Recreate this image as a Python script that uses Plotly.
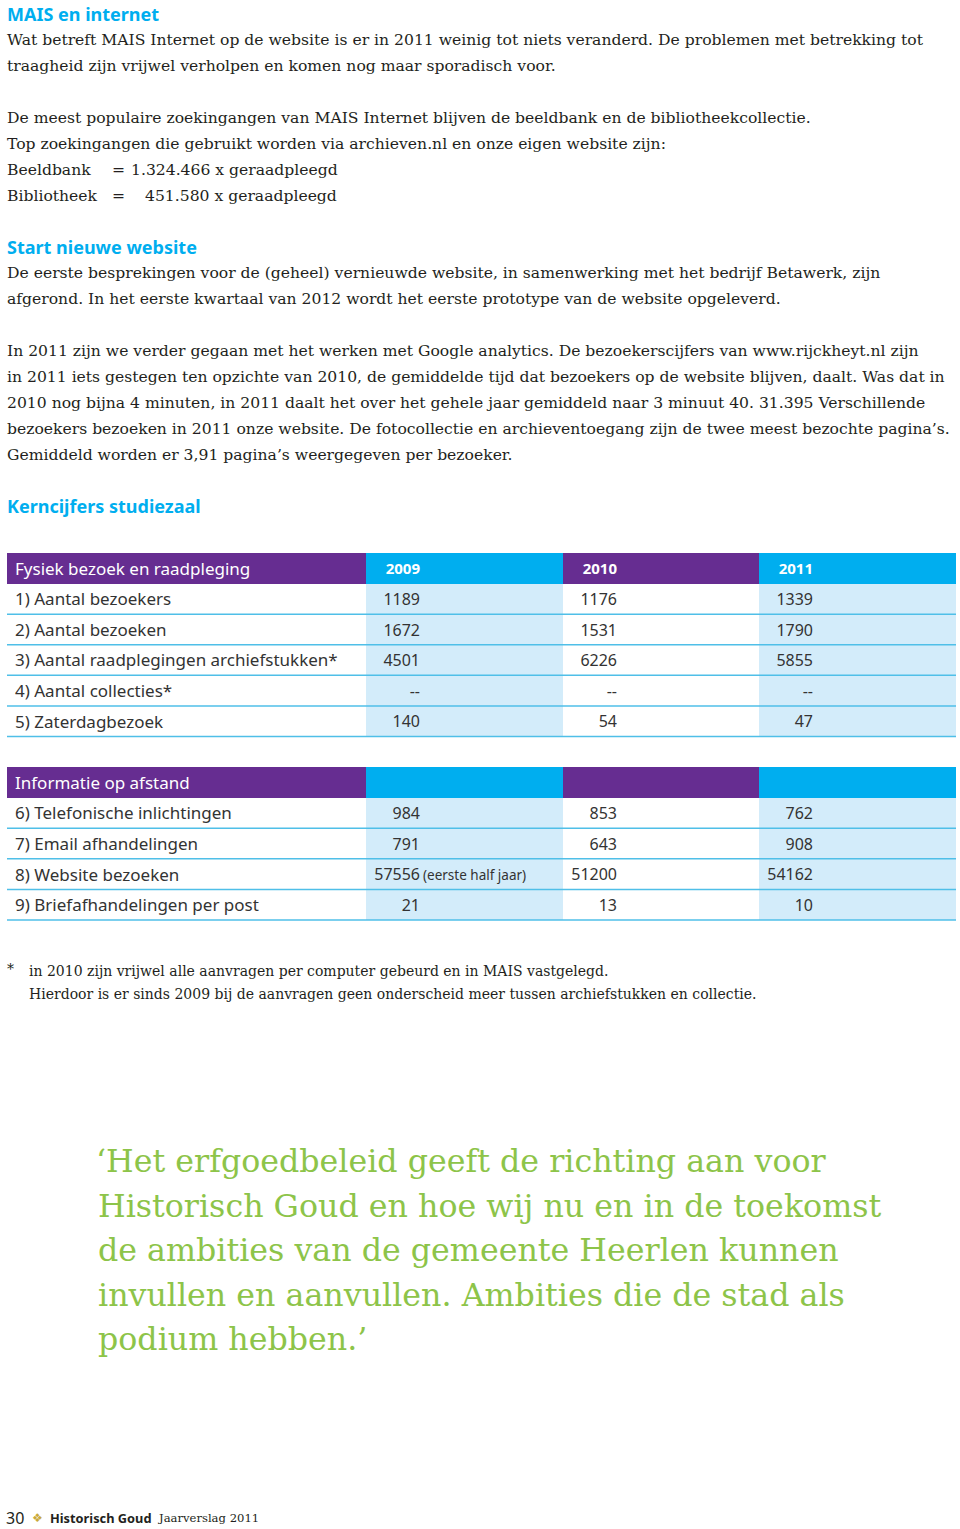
import plotly.graph_objs as go

# --- data -----------------------------------------------------------------
years = ['2009', '2010', '2011']

fysiek_labels = ['1) Aantal bezoekers', '2) Aantal bezoeken',
                 '3) Aantal raadplegingen archiefstukken*',
                 '4) Aantal collecties*', '5) Zaterdagbezoek']
fysiek_2009 = [1189, 1672, 4501, None, 140]
fysiek_2010 = [1176, 1531, 6226, None, 54]
fysiek_2011 = [1339, 1790, 5855, None, 47]

afstand_labels = ['6) Telefonische inlichtingen', '7) Email afhandelingen',
                  '8) Website bezoeken', '9) Briefafhandelingen per post']
afstand_2009 = [984, 791, 57556, 21]
afstand_2010 = [853, 643, 51200, 13]
afstand_2011 = [762, 908, 54162, 10]
afstand_2009_note = ['', '', '(eerste half jaar)', '']

section_titles = ['Fysiek bezoek en raadpleging', 'Informatie op afstand']

# --- styles -----------------------------------------------------------------
W, H = 960, 1529
PURPLE = '#662d91'
CYAN = '#00aeef'
LIGHT = '#d3ecfa'
LINE = '#4fbfe8'
TEXT = '#231f20'
GREEN = '#8dc449'
SERIF = 'DejaVu Serif'
SANS = 'Noto Sans'
col_edges = [7, 366, 563, 759, 956]


def px(x):
    return x / W


def py(y):
    return 1 - y / H


def fmt(v):
    return '--' if v is None else str(v)


# --- build table rows -----------------------------------------------------
# row layout: header, 5 rows, empty gap, header, 4 rows
rows = []
rows.append(('header', section_titles[0], years))
for lab, a, b, c in zip(fysiek_labels, fysiek_2009, fysiek_2010, fysiek_2011):
    rows.append(('body', lab, [fmt(a), fmt(b), fmt(c)]))
rows.append(('gap', '', ['', '', '']))
rows.append(('header', section_titles[1], ['', '', '']))
for lab, a, b, c in zip(afstand_labels, afstand_2009, afstand_2010, afstand_2011):
    rows.append(('body', lab, [fmt(a), fmt(b), fmt(c)]))

z = []
for kind, _, _ in rows:
    if kind == 'header':
        z.append([2, 3, 2, 3])
    elif kind == 'body':
        z.append([0, 1, 0, 1])
    else:
        z.append([None, None, None, None])
row_idx = list(range(len(rows)))

fig = go.Figure()

fig.add_trace(go.Heatmap(
    z=z, x=col_edges, y=row_idx,
    colorscale=[[0, 'white'], [1 / 3, LIGHT], [2 / 3, PURPLE], [1, CYAN]],
    zmin=0, zmax=3, showscale=False, hoverinfo='skip'))

# text sits a touch below the row centre in the reference
TXT_DY = 0.07

# row labels
for kind, color, size in [('header', 'white', 17), ('body', '#333333', 17)]:
    ys = [i for i, r in enumerate(rows) if r[0] == kind]
    fig.add_trace(go.Scatter(
        x=[15] * len(ys), y=[i + TXT_DY for i in ys], mode='text',
        text=[rows[i][1] for i in ys], textposition='middle right',
        textfont=dict(family=SANS, size=size, color=color),
        hoverinfo='skip', showlegend=False))

# values, right aligned inside each year column
for j in range(3):
    x_val = col_edges[j + 1] + 54
    for kind, color, size in [('header', 'white', 15), ('body', '#333333', 16)]:
        ys = [i for i, r in enumerate(rows) if r[0] == kind]
        fig.add_trace(go.Scatter(
            x=[x_val] * len(ys), y=[i + TXT_DY for i in ys], mode='text',
            text=[rows[i][2][j] for i in ys], textposition='middle left',
            textfont=dict(family=SANS, size=size, color=color,
                          weight='bold' if kind == 'header' else 'normal'),
            hoverinfo='skip', showlegend=False))

# note behind 57556
note_rows = [i for i, r in enumerate(rows) if r[1] in afstand_labels]
fig.add_trace(go.Scatter(
    x=[col_edges[1] + 57] * len(note_rows), y=[i + TXT_DY for i in note_rows],
    mode='text', text=afstand_2009_note, textposition='middle right',
    textfont=dict(family=SANS, size=13.5, color='#333333'),
    hoverinfo='skip', showlegend=False))

# cyan lines under body rows
shapes = []
for i, r in enumerate(rows):
    if r[0] == 'body':
        shapes.append(dict(type='line', xref='x', yref='y',
                           x0=col_edges[0], x1=col_edges[-1], y0=i + 0.5, y1=i + 0.5,
                           line=dict(color=LINE, width=1.5)))

# --- page text ---------------------------------------------------------------
annotations = []


def add_text(x, y, text, size=15.6, color=TEXT, family=SERIF, bold=False):
    annotations.append(dict(
        x=px(x), y=py(y), xref='paper', yref='paper', text=text,
        showarrow=False, xanchor='left', yanchor='middle', borderpad=0,
        font=dict(family=family, size=size, color=color,
                  weight='bold' if bold else 'normal')))


add_text(6, 14, 'MAIS en internet', 18, CYAN, SANS, True)
p1 = ['Wat betreft MAIS Internet op de website is er in 2011 weinig tot niets veranderd. De problemen met betrekking tot',
      'traagheid zijn vrijwel verholpen en komen nog maar sporadisch voor.']
p2 = ['De meest populaire zoekingangen van MAIS Internet blijven de beeldbank en de bibliotheekcollectie.',
      'Top zoekingangen die gebruikt worden via archieven.nl en onze eigen website zijn:']
for k, line in enumerate(p1):
    add_text(6, 40 + 26 * k, line)
for k, line in enumerate(p2):
    add_text(6, 118 + 26 * k, line)
add_text(6, 170, 'Beeldbank')
add_text(111, 170, '=')
add_text(130, 170, '1.324.466 x geraadpleegd')
add_text(6, 196, 'Bibliotheek')
add_text(111, 196, '=')
add_text(144, 196, '451.580 x geraadpleegd')

add_text(6, 247, 'Start nieuwe website', 18, CYAN, SANS, True)
p3 = ['De eerste besprekingen voor de (geheel) vernieuwde website, in samenwerking met het bedrijf Betawerk, zijn',
      'afgerond. In het eerste kwartaal van 2012 wordt het eerste prototype van de website opgeleverd.']
p4 = ['In 2011 zijn we verder gegaan met het werken met Google analytics. De bezoekerscijfers van www.rijckheyt.nl zijn',
      'in 2011 iets gestegen ten opzichte van 2010, de gemiddelde tijd dat bezoekers op de website blijven, daalt. Was dat in',
      '2010 nog bijna 4 minuten, in 2011 daalt het over het gehele jaar gemiddeld naar 3 minuut 40. 31.395 Verschillende',
      'bezoekers bezoeken in 2011 onze website. De fotocollectie en archieventoegang zijn de twee meest bezochte pagina’s.',
      'Gemiddeld worden er 3,91 pagina’s weergegeven per bezoeker.']
for k, line in enumerate(p3):
    add_text(6, 273 + 26 * k, line)
for k, line in enumerate(p4):
    add_text(6, 351 + 26 * k, line)

add_text(6, 506, 'Kerncijfers studiezaal', 18, CYAN, SANS, True)

# footnote
add_text(6, 969, '*', 14)
add_text(28, 971, 'in 2010 zijn vrijwel alle aanvragen per computer gebeurd en in MAIS vastgelegd.', 14)
add_text(28, 994, 'Hierdoor is er sinds 2009 bij de aanvragen geen onderscheid meer tussen archiefstukken en collectie.', 14)

# quote
quote = ['‘Het erfgoedbeleid geeft de richting aan voor',
         'Historisch Goud en hoe wij nu en in de toekomst',
         'de ambities van de gemeente Heerlen kunnen',
         'invullen en aanvullen. Ambities die de stad als',
         'podium hebben.’']
for k, line in enumerate(quote):
    add_text(95 if k == 0 else 97, 1161 + 44.5 * k, line, 31.7, GREEN)

# footer
add_text(5, 1518, '30', 16, TEXT, SANS)
add_text(31, 1518, '❖', 12, '#c9a93a', 'DejaVu Sans')
add_text(49, 1518, 'Historisch Goud', 12.8, TEXT, SANS, True)
add_text(157, 1518, 'Jaarverslag 2011', 11.6)

n = len(rows)
y_top, y_bot = 553, 553 + (n + 0.1) * (367 / n)
fig.update_layout(
    width=W, height=H, margin=dict(l=0, r=0, t=0, b=0),
    paper_bgcolor='white', plot_bgcolor='white',
    xaxis=dict(range=[0, W], visible=False, fixedrange=True),
    yaxis=dict(range=[n - 0.4, -0.5], visible=False, fixedrange=True,
               domain=[py(y_bot), py(y_top)]),
    shapes=shapes, annotations=annotations, showlegend=False)

# the page body has a default 8px margin; drop it so the figure fills the window
fig.write_html('out.html', config={'displayModeBar': False},
               post_script="document.body.style.margin='0';")
